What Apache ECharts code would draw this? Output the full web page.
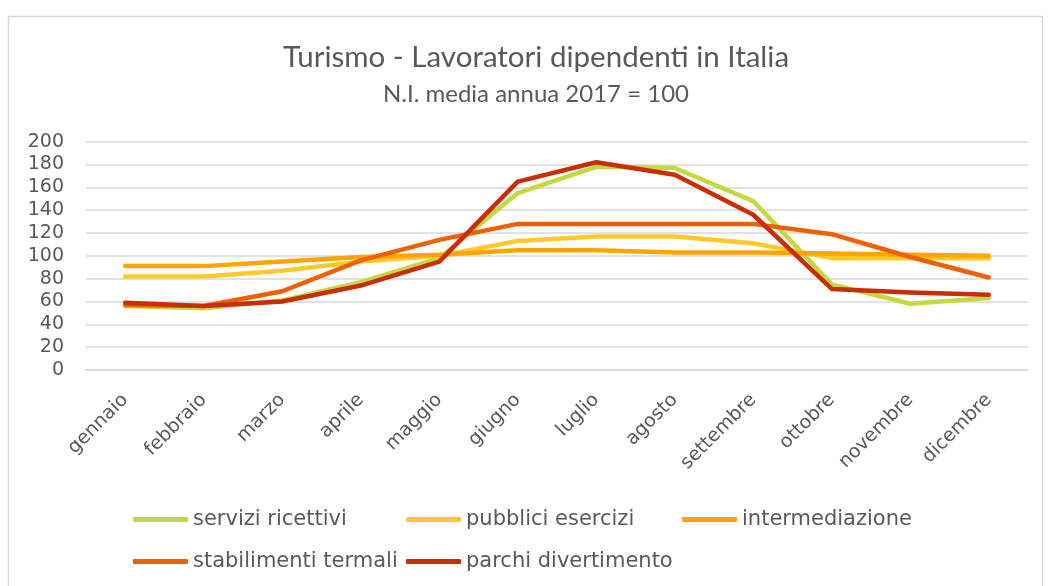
<!DOCTYPE html>
<html>
<head>
<meta charset="utf-8">
<script src="https://cdn.jsdelivr.net/npm/echarts@6/dist/echarts.min.js"></script>
<style>
  html, body { margin: 0; padding: 0; background: #fff; }
  #chart { width: 1051px; height: 586px; }
</style>
</head>
<body>
<div id="chart"></div>
<script>
const mesi = ['gennaio', 'febbraio', 'marzo', 'aprile', 'maggio', 'giugno', 'luglio', 'agosto', 'settembre', 'ottobre', 'novembre', 'dicembre'];

const serviziRicettivi = [56, 54, 61, 77, 98, 155, 178, 177, 148, 75, 58, 63];
const pubbliciEsercizi = [82, 82, 87, 95, 100, 113, 117, 117, 111, 98, 98, 98];
const intermediazione = [91, 91, 95, 99, 101, 105, 105, 103, 103, 102, 101, 100];
const stabilimentiTermali = [57, 56, 69, 96, 114, 128, 128, 128, 128, 119, 99, 81];
const parchiDivertimento = [59, 56, 60, 74, 95, 165, 182, 171, 136, 71, 68, 66];

const nomi = ['servizi ricettivi', 'pubblici esercizi', 'intermediazione', 'stabilimenti termali', 'parchi divertimento'];
const colori = ['#c4d940', '#ffc92e', '#ffa500', '#ee6102', '#c92d03'];
const valori = [serviziRicettivi, pubbliciEsercizi, intermediazione, stabilimentiTermali, parchiDivertimento];

// posizione di ogni voce della legenda (colonne come in Excel)
const legendPos = [[133, 509], [406, 509], [682, 509], [133, 551], [406, 551]];

const chart = echarts.init(document.getElementById('chart'));

chart.setOption({
  animation: false,
  textStyle: { fontFamily: 'DejaVu Sans' },
  title: [{
    text: 'Turismo - Lavoratori dipendenti in Italia',
    left: 536,
    textAlign: 'center',
    top: 42,
    padding: 0,
    textStyle: { fontFamily: 'Lato', fontWeight: 'normal', fontSize: 29.5, color: '#595959' }
  }, {
    text: 'N.I. media annua 2017 = 100',
    left: 536,
    textAlign: 'center',
    top: 82,
    padding: 0,
    textStyle: { fontFamily: 'Lato', fontWeight: 'normal', fontSize: 24, color: '#595959' }
  }],
  graphic: [{
    type: 'rect',
    shape: { x: 8.5, y: 16.5, width: 1034, height: 600 },
    style: { fill: 'none', stroke: '#d9d9d9', lineWidth: 1.5 },
    silent: true
  }],
  legend: nomi.map((n, i) => ({
    data: [n],
    left: legendPos[i][0],
    top: legendPos[i][1],
    padding: 0,
    icon: 'roundRect',
    itemWidth: 55,
    itemHeight: 5,
    itemGap: 0,
    textStyle: { fontFamily: 'DejaVu Sans', fontSize: 21, color: '#595959' }
  })),
  grid: { left: 86, right: 23, top: 141.7, bottom: 216, containLabel: false },
  xAxis: {
    type: 'category',
    data: mesi,
    boundaryGap: true,
    axisLine: { show: true, lineStyle: { color: '#d9d9d9', width: 1.5 } },
    axisTick: { show: false },
    axisLabel: { rotate: 45, fontSize: 19, color: '#595959', margin: 27, interval: 0 }
  },
  yAxis: {
    type: 'value',
    min: 0,
    max: 200,
    interval: 20,
    axisLine: { show: false },
    axisTick: { show: false },
    splitLine: { lineStyle: { color: '#d9d9d9', width: 1.5 } },
    axisLabel: { fontSize: 19, color: '#595959', margin: 22 }
  },
  series: nomi.map((n, i) => ({
    name: n,
    type: 'line',
    data: valori[i],
    symbol: 'none',
    color: colori[i],
    lineStyle: { width: 4.5, color: colori[i], cap: 'round', join: 'round' },
    z: 2 + i
  }))
});
</script>
</body>
</html>
